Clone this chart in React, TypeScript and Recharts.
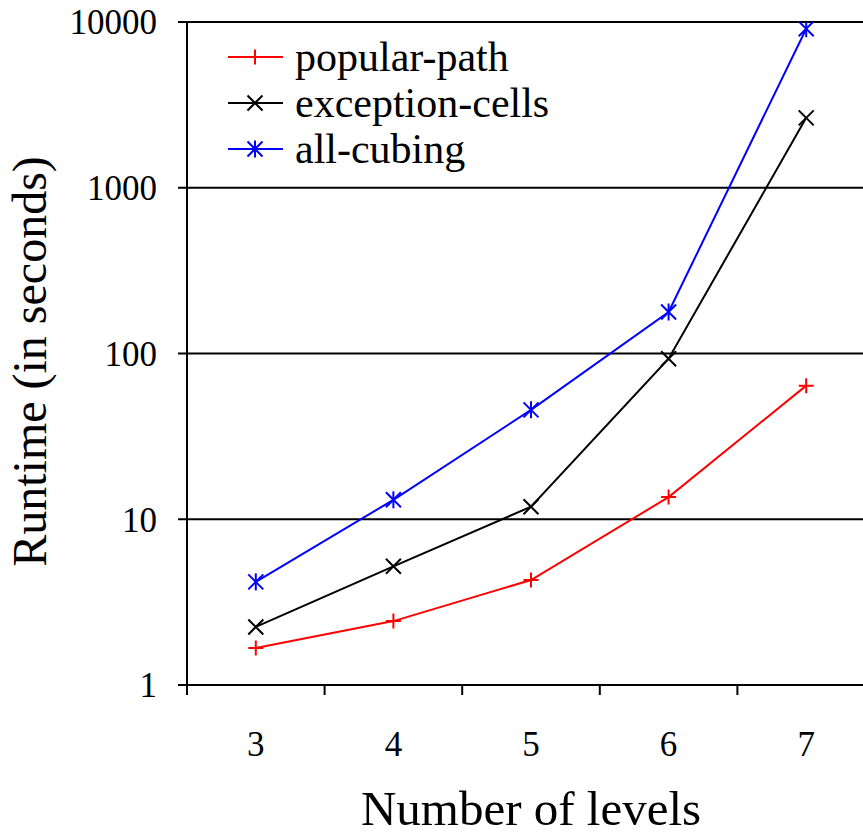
import React from "react"
import {
  LineChart,
  Line,
  XAxis,
  YAxis,
  CartesianGrid,
  Legend,
  Label,
} from "recharts"

const levels = [3, 4, 5, 6, 7]
const popularPath = [1.67, 2.43, 4.3, 13.6, 64]
const exceptionCells = [2.24, 5.2, 11.9, 93, 2640]
const allCubing = [4.19, 13.1, 45.7, 178, 9100]
const runtimeTicks = [1, 10, 100, 1000, 10000]
// tick marks on the x axis sit between the level columns
const levelBounds = [2.5, 3.5, 4.5, 5.5, 6.5, 7.5]
const seriesOrder = ["popular", "exception", "all"]

const data = levels.map((level, i) => ({
  level,
  popular: popularPath[i],
  exception: exceptionCells[i],
  all: allCubing[i],
}))

const FONT = '"Liberation Serif", "Times New Roman", serif'

type MarkProps = { cx?: number; cy?: number; color: string; size?: number }

function PlusMark({ cx = 0, cy = 0, color, size = 7.5 }: MarkProps) {
  return (
    <path
      d={`M${cx - size},${cy}H${cx + size}M${cx},${cy - size}V${cy + size}`}
      stroke={color}
      strokeWidth={2}
      fill="none"
    />
  )
}

function CrossMark({ cx = 0, cy = 0, color, size = 7.5 }: MarkProps) {
  return (
    <path
      d={`M${cx - size},${cy - size}L${cx + size},${cy + size}M${cx - size},${cy + size}L${cx + size},${cy - size}`}
      stroke={color}
      strokeWidth={2}
      fill="none"
    />
  )
}

function StarMark({ cx = 0, cy = 0, color, size = 7.5 }: MarkProps) {
  return (
    <g stroke={color} strokeWidth={2} fill="none">
      <CrossMark cx={cx} cy={cy} color={color} size={size} />
      <path d={`M${cx},${cy - size - 1}V${cy + size + 1}`} />
    </g>
  )
}

const marks: Record<string, (p: MarkProps) => React.ReactElement> = {
  popular: PlusMark,
  exception: CrossMark,
  all: StarMark,
}

function LegendBox({ payload }: any) {
  const items = [...(payload || [])].sort(
    (a: any, b: any) => seriesOrder.indexOf(a.dataKey) - seriesOrder.indexOf(b.dataKey)
  )
  return (
    <svg width={340} height={150}>
      {items.map((item: any, i: number) => {
        const y = 27 + i * 46
        const Mark = marks[item.dataKey]
        return (
          <g key={item.value}>
            <line x1={8} x2={63} y1={y} y2={y} stroke={item.color} strokeWidth={2} />
            <Mark cx={35} cy={y} color={item.color} />
            <text x={75} y={y + 14} fontFamily={FONT} fontSize={42} fill="#000">
              {item.value}
            </text>
          </g>
        )
      })}
    </svg>
  )
}

function YTitle({ viewBox }: any) {
  const cx = 46
  const cy = viewBox.y + viewBox.height / 2 + 8
  return (
    <text
      x={cx}
      y={cy}
      transform={`rotate(-90 ${cx} ${cy})`}
      textAnchor="middle"
      fontFamily={FONT}
      fontSize={48}
      fill="#000"
    >
      Runtime (in seconds)
    </text>
  )
}

export default function App() {
  const tickStyle = { fontFamily: FONT, fontSize: 35, fill: "#000" }
  return (
    <div
      style={{
        position: "fixed",
        top: 0,
        left: 0,
        width: 863,
        height: 836,
        overflow: "hidden",
        background: "#fff",
      }}
    >
      <LineChart
        width={880}
        height={836}
        data={data}
        margin={{ top: 22, right: 5, bottom: 0, left: 0 }}
      >
        <CartesianGrid
          vertical={false}
          stroke="#000"
          strokeWidth={2}
          xAxisId="lvl"
        />
        <XAxis
          xAxisId="bounds"
          type="number"
          dataKey="level"
          domain={[2.5, 7.5]}
          allowDataOverflow
          ticks={levelBounds}
          interval={0}
          height={1}
          tickSize={10}
          tickFormatter={() => ""}
          axisLine={{ stroke: "#000", strokeWidth: 2 }}
          tickLine={{ stroke: "#000", strokeWidth: 2 }}
        />
        <XAxis
          xAxisId="lvl"
          type="number"
          dataKey="level"
          domain={[2.5, 7.5]}
          allowDataOverflow
          ticks={levels}
          interval={0}
          height={150}
          axisLine={false}
          tickLine={false}
          tickSize={0}
          tickMargin={45}
          tick={tickStyle}
        >
          <Label
            value="Number of levels"
            position="insideBottom"
            offset={11}
            style={{ fontFamily: FONT, fontSize: 49, fill: "#000" }}
          />
        </XAxis>
        <YAxis
          scale="log"
          domain={[1, 10000]}
          ticks={runtimeTicks}
          interval={0}
          allowDataOverflow
          width={187}
          tickSize={9}
          tickMargin={21}
          tick={tickStyle}
          axisLine={{ stroke: "#000", strokeWidth: 2 }}
          tickLine={{ stroke: "#000", strokeWidth: 2 }}
        >
          <Label content={<YTitle />} />
        </YAxis>
        <Legend
          layout="vertical"
          align="center"
          verticalAlign="middle"
          wrapperStyle={{ top: 30, left: 220, width: 340, height: 150 }}
          content={<LegendBox />}
        />
        <Line
          xAxisId="lvl"
          dataKey="popular"
          name="popular-path"
          stroke="#ff0000"
          strokeWidth={2}
          isAnimationActive={false}
          dot={(p: any) => <PlusMark key={`pp-${p.index}`} cx={p.cx} cy={p.cy} color="#ff0000" />}
        />
        <Line
          xAxisId="lvl"
          dataKey="exception"
          name="exception-cells"
          stroke="#000000"
          strokeWidth={2}
          isAnimationActive={false}
          dot={(p: any) => <CrossMark key={`ec-${p.index}`} cx={p.cx} cy={p.cy} color="#000000" />}
        />
        <Line
          xAxisId="lvl"
          dataKey="all"
          name="all-cubing"
          stroke="#0000ff"
          strokeWidth={2}
          isAnimationActive={false}
          dot={(p: any) => <StarMark key={`ac-${p.index}`} cx={p.cx} cy={p.cy} color="#0000ff" />}
        />
      </LineChart>
    </div>
  )
}
